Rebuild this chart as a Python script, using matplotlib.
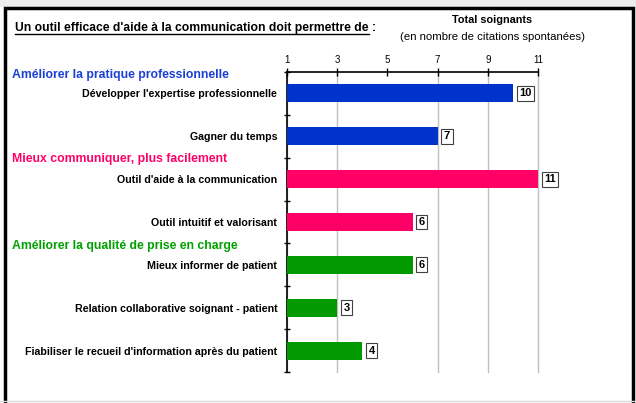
import matplotlib
matplotlib.use('Agg')
import matplotlib.pyplot as plt
import numpy as np
from matplotlib.patches import Rectangle
from matplotlib.lines import Line2D
from matplotlib.transforms import blended_transform_factory

plt.rcParams['font.family'] = ['Liberation Sans', 'DejaVu Sans']

# data
categories = ["Développer l'expertise professionnelle",
              "Gagner du temps",
              "Outil d'aide à la communication",
              "Outil intuitif et valorisant",
              "Mieux informer de patient",
              "Relation collaborative soignant - patient",
              "Fiabiliser le recueil d'information après du patient"]
values = [10, 7, 11, 6, 6, 3, 4]
group_of = [0, 0, 1, 1, 2, 2, 2]
groups = ["Améliorer la pratique professionnelle",
          "Mieux communiquer, plus facilement",
          "Améliorer la qualité de prise en charge"]
group_colors = ['#0033CC', '#FF0066', '#009900']
header_colors = ['#1A3FD6', '#FF0066', '#00A000']
xticks = [1, 3, 5, 7, 9, 11]

W, H = 636, 403
fig = plt.figure(figsize=(W / 100, H / 100), dpi=100)

# axes placed to match the pixel layout of the original sheet
ax = fig.add_axes([287 / W, 1 - 372 / H, (538 - 287) / W, 300 / H])
y = np.arange(len(categories))
bar_colors = [group_colors[g] for g in group_of]
ax.barh(y, np.array(values) - xticks[0], left=xticks[0], height=0.42,
        color=bar_colors, zorder=3)

ax.set_xlim(xticks[0], xticks[-1])
ax.set_ylim(len(categories) - 0.5, -0.5)

# x axis on top
ax.xaxis.tick_top()
ax.set_xticks(xticks)
ax.tick_params(axis='x', direction='inout', length=6, width=1,
               labelsize=7, pad=2, colors='black')
ax.grid(axis='x', color='#C0C0C0', lw=1, zorder=0)
# no gridline at 5 in the original
for t, gl in zip(xticks, ax.get_xgridlines()):
    gl.set_clip_on(False)
    if t == 5:
        gl.set_visible(False)

# category labels, with small ticks between categories
ax.set_yticks(y, labels=categories)
ax.tick_params(axis='y', which='major', length=0, pad=7, labelsize=7.7)
for lab in ax.get_yticklabels():
    lab.set_fontweight('bold')
ax.set_yticks(np.arange(len(categories) + 1) - 0.5, minor=True)
ax.tick_params(axis='y', which='minor', direction='inout', length=5, width=1)

for s in ['right', 'bottom']:
    ax.spines[s].set_visible(False)
for s in ['left', 'top']:
    ax.spines[s].set_linewidth(1.2)
    ax.spines[s].set_color('black')

# value boxes
for i, v in enumerate(values):
    ax.annotate(str(v), (v, i), xytext=(4.5, 0), textcoords='offset points',
                ha='left', va='center', fontsize=8, fontweight='bold',
                bbox=dict(boxstyle='square,pad=0.22', fc='white',
                          ec='#404040', lw=0.8), zorder=4)

# group headers
trans = blended_transform_factory(fig.transFigure, ax.transData)
header_y = [-0.43, 1.52, 3.56]
for g, name in enumerate(groups):
    ax.text(12 / W, header_y[g], name, transform=trans, ha='left', va='center',
            fontsize=8.8, fontweight='bold', color=header_colors[g])

# title, underlined
title = fig.text(15 / W, 1 - 28 / H,
                 "Un outil efficace d'aide à la communication doit permettre de",
                 fontsize=8.7, fontweight='bold', va='center')
fig.text(492 / W, 1 - 20 / H, "Total soignants", ha='center', va='center',
         fontsize=7.8, fontweight='bold')
fig.text(492 / W, 1 - 37 / H, "(en nombre de citations spontanées)",
         ha='center', va='center', fontsize=8.2)

fig.canvas.draw()
bb = title.get_window_extent()
inv = fig.transFigure.inverted()
(x0, y0), (x1, y1) = inv.transform([(bb.x0, bb.y0), (bb.x1, bb.y1)])
fig.add_artist(Line2D([x0, x1], [y0 + 0.5 / H, y0 + 0.5 / H], transform=fig.transFigure,
                      color='black', lw=1))
fig.text(x1 + 3 / W, 1 - 28 / H, ":", fontsize=8.7, fontweight='bold', va='center')

# sheet decoration: grey strip above, black frame
fig.add_artist(Rectangle((0, 1 - 7 / H), 1, 7 / H, transform=fig.transFigure,
                         fc='#ECECEC', ec='none'))
fig.add_artist(Line2D([0, 1], [1 - 401 / H, 1 - 401 / H], transform=fig.transFigure,
                      color='#D8D8D8', lw=1))
fig.add_artist(Rectangle((4.5 / W, -0.05), (632.5 - 4.5) / W, (403 - 8) / H + 0.05,
                         transform=fig.transFigure, fill=False, ec='black', lw=2.5))

fig.savefig('out.png', dpi=100)
